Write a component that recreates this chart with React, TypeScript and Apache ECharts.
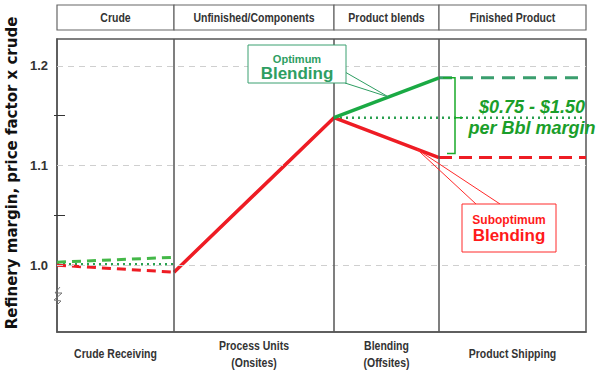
import React, { useEffect, useRef } from "react";
import * as echarts from "echarts";

// ---- data ----
const stageEdges = [0, 1.17, 2.77, 3.82, 5.29];
const headerLabels = ["Crude", "Unfinished/Components", "Product blends", "Finished Product"];
const stageLabels = ["Crude Receiving", "Process Units\n(Onsites)", "Blending\n(Offsites)", "Product Shipping"];
const yLabelValues = [1.0, 1.1, 1.2];
const yMinorTicks = [1.05, 1.15];
const yMin = 0.933;
const yMax = 1.227;
const redValues = [1.0, 0.993, 1.148, 1.108, 1.108];
const greenValues = [1.003, 1.008, 1.148, 1.188, 1.188];
const dottedValues = [1.001, 1.001, 1.148, 1.148, 1.148];
const marginLines = ["$0.75 - $1.50", "per Bbl margin"];
const optimumLines = ["Optimum", "Blending"];
const suboptimumLines = ["Suboptimum", "Blending"];
const yAxisTitle = "Refinery margin, price factor x crude";

const NARROW = "'Liberation Sans Narrow', 'Liberation Sans', Arial, sans-serif";
const SANS = "'Liberation Sans', Arial, sans-serif";

const RED = "#ee1c24";
const GREEN = "#1aaa44";
const GREEN_DASH_L = "#44b848";
const GREEN_DASH_R = "#3a9e6e";
const GREEN_DOT = "#2aa050";
const OPT_GREEN = "#2e9e62";
const TXT_GREEN = "#1a9e2a";
const NARROW_SCALE = 0.84;

const mids = stageEdges.slice(0, -1).map((e, i) => (e + stageEdges[i + 1]) / 2);

function seg(values: number[], from: number, to: number) {
  const out: number[][] = [];
  for (let i = from; i <= to; i++) out.push([stageEdges[i], values[i]]);
  return out;
}

function lineSeries(name: string, data: number[][], color: string, width: number, type: any, z: number) {
  return {
    name,
    type: "line",
    data,
    symbol: "none",
    z,
    silent: true,
    lineStyle: { color, width, type, cap: "butt" },
  };
}

export default function App() {
  const ref = useRef<HTMLDivElement>(null);
  useEffect(() => {
    if (!ref.current) return;
    const chart = echarts.init(ref.current, undefined, { renderer: "svg" });
    const guideLines: any[] = [
      ...yLabelValues.map((v) => ({
        yAxis: v,
        lineStyle: { color: "#cfcfcf", width: 1, type: [6, 5] },
      })),
      ...stageEdges.slice(1, -1).map((e) => ({
        xAxis: e,
        lineStyle: { color: "#555", width: 1.5, type: "solid" },
      })),
    ];
    chart.setOption({
      animation: false,
      backgroundColor: "#fff",
      grid: {
        left: 57,
        right: 14,
        top: 39,
        bottom: 42,
        show: true,
        borderColor: "#555",
        borderWidth: 1.5,
        backgroundColor: "transparent",
      },
      xAxis: {
        type: "value",
        min: 0,
        max: stageEdges[stageEdges.length - 1],
        axisLine: { show: true, lineStyle: { color: "#555", width: 1.5 } },
        axisTick: { show: false },
        splitLine: { show: false },
        axisLabel: { show: false },
      },
      yAxis: [
        {
          type: "value",
          min: yMin,
          max: yMax,
          axisLine: { show: true, lineStyle: { color: "#555", width: 1.5 } },
          axisTick: { show: true, customValues: yMinorTicks, length: 3, lineStyle: { color: "#333", width: 1 } },
          splitLine: { show: false },
          axisLabel: {
            customValues: yLabelValues,
            formatter: (v: number) => v.toFixed(1),
            margin: 9,
            fontFamily: NARROW,
            fontWeight: "bold",
            fontSize: 13,
            color: "#333",
          },
        },
        {
          type: "value",
          min: yMin,
          max: yMax,
          position: "left",
          axisLine: { show: false },
          axisTick: { show: true, inside: true, customValues: yMinorTicks, length: 8, lineStyle: { color: "#333", width: 1 } },
          splitLine: { show: false },
          axisLabel: { show: false },
        },
      ],
      series: [
        {
          name: "guides",
          type: "line",
          data: seg(dottedValues, 0, 0),
          symbol: "none",
          z: 1,
          silent: true,
          lineStyle: { opacity: 0 },
          markLine: {
            silent: true,
            symbol: "none",
            label: { show: false },
            data: guideLines,
          },
        },
        lineSeries("dottedL", seg(dottedValues, 0, 1), GREEN_DOT, 2.5, [2, 4], 2),
        lineSeries("dottedR", seg(dottedValues, 2, 4), GREEN_DOT, 2.5, [2, 4], 2),
        lineSeries("greenDashL", seg(greenValues, 0, 1), GREEN_DASH_L, 3, [9, 6], 3),
        lineSeries("redDashL", seg(redValues, 0, 1), RED, 3, [9, 6], 3),
        lineSeries("greenDashR", seg(greenValues, 3, 4), GREEN_DASH_R, 3, [13, 8], 3),
        lineSeries("redDashR", seg(redValues, 3, 4), RED, 3, [13, 7], 3),
        lineSeries("redSolid", seg(redValues, 1, 3), RED, 3.5, "solid", 4),
        lineSeries("greenSolid", seg(greenValues, 2, 3), GREEN, 3.5, "solid", 5),
      ],
    });

    const P = (x: number, y: number) => chart.convertToPixel({ gridIndex: 0 } as any, [x, y]) as number[];
    const lerp = (a: number[], b: number[], t: number) => [a[0] + (b[0] - a[0]) * t, a[1] + (b[1] - a[1]) * t];
    const g: any[] = [];

    // header boxes
    for (let i = 0; i < headerLabels.length; i++) {
      const x0 = P(stageEdges[i], yMax)[0];
      const x1 = P(stageEdges[i + 1], yMax)[0];
      g.push({
        type: "rect",
        shape: { x: x0, y: 5, width: x1 - x0, height: 25 },
        style: { fill: "#fff", stroke: "#666", lineWidth: 1.2 },
        z: 50,
      });
      g.push({
        type: "text",
        x: (x0 + x1) / 2,
        y: 17.5,
        scaleX: NARROW_SCALE,
        style: {
          text: headerLabels[i],
          fontFamily: NARROW,
          fontWeight: "bold",
          fontSize: 12.5,
          fill: "#333",
          align: "center",
          verticalAlign: "middle",
        },
        z: 51,
      });
    }

    // stage labels below the x axis
    const axisY = P(0, yMin)[1];
    for (let i = 0; i < stageLabels.length; i++) {
      g.push({
        type: "text",
        x: P(mids[i], yMin)[0],
        y: axisY + 22,
        scaleX: NARROW_SCALE,
        style: {
          text: stageLabels[i],
          fontFamily: NARROW,
          fontWeight: "bold",
          fontSize: 12.5,
          lineHeight: 17,
          fill: "#333",
          align: "center",
          verticalAlign: "middle",
        },
        z: 51,
      });
    }

    // y-axis title
    g.push({
      type: "text",
      x: 11.5,
      y: 173,
      rotation: Math.PI / 2,
      style: {
        text: yAxisTitle,
        fontFamily: "'DejaVu Sans', sans-serif",
        fontWeight: "bold",
        fontSize: 15,
        fill: "#111",
        align: "center",
        verticalAlign: "middle",
      },
      z: 50,
    });

    // axis break squiggle
    g.push({
      type: "polyline",
      shape: { points: [[60, 287], [55, 293], [62, 293], [54, 300], [61, 301], [57, 305]] },
      style: { stroke: "#777", lineWidth: 1, fill: "none" },
      z: 50,
    });

    // Optimum callout
    const optTip = lerp(P(stageEdges[2], greenValues[2]), P(stageEdges[3], greenValues[3]), 0.52);
    g.push({
      type: "polyline",
      shape: { points: [[345, 72], optTip, [345, 83]] },
      style: { stroke: OPT_GREEN, lineWidth: 1, fill: "none" },
      z: 60,
    });
    g.push({
      type: "rect",
      shape: { x: 248, y: 45, width: 98, height: 38 },
      style: { fill: "#fff", stroke: "#3aa070", lineWidth: 1 },
      z: 61,
    });
    g.push({
      type: "text",
      x: 297,
      y: 59,
      style: { text: optimumLines[0], fontFamily: SANS, fontWeight: "bold", fontSize: 11, fill: OPT_GREEN, align: "center", verticalAlign: "middle" },
      z: 62,
    });
    g.push({
      type: "text",
      x: 297,
      y: 73,
      style: { text: optimumLines[1], fontFamily: SANS, fontWeight: "bold", fontSize: 17, fill: OPT_GREEN, align: "center", verticalAlign: "middle" },
      z: 62,
    });

    // Suboptimum callout
    const subTip = lerp(P(stageEdges[2], redValues[2]), P(stageEdges[3], redValues[3]), 0.79);
    g.push({
      type: "polyline",
      shape: { points: [[476, 204], subTip, [500, 204]] },
      style: { stroke: "#ff2a2a", lineWidth: 1, fill: "none" },
      z: 60,
    });
    g.push({
      type: "rect",
      shape: { x: 462, y: 204, width: 94, height: 48 },
      style: { fill: "#fff", stroke: "#ff2a2a", lineWidth: 1 },
      z: 61,
    });
    g.push({
      type: "text",
      x: 509,
      y: 220,
      style: { text: suboptimumLines[0], fontFamily: SANS, fontWeight: "bold", fontSize: 12, fill: "#ff1a1a", align: "center", verticalAlign: "middle" },
      z: 62,
    });
    g.push({
      type: "text",
      x: 509,
      y: 235,
      style: { text: suboptimumLines[1], fontFamily: SANS, fontWeight: "bold", fontSize: 17, fill: "#ff1a1a", align: "center", verticalAlign: "middle" },
      z: 62,
    });

    // bracket and margin text
    const bx = P(stageEdges[3], yMax)[0] + 4;
    const yTop = P(0, greenValues[3])[1];
    const yBot = P(0, redValues[3])[1] - 4;
    const yMid = P(0, dottedValues[2])[1];
    g.push({
      type: "polyline",
      shape: { points: [[bx, yTop], [bx + 12, yTop], [bx + 12, yBot], [bx + 4, yBot]] },
      style: { stroke: "#1aaa2a", lineWidth: 1.5, fill: "none" },
      z: 60,
    });
    g.push({
      type: "line",
      shape: { x1: bx + 12, y1: yMid, x2: bx + 20, y2: yMid },
      style: { stroke: "#1aaa2a", lineWidth: 1.5 },
      z: 60,
    });
    g.push({
      type: "text",
      x: 532,
      y: yMid - 11,
      style: { text: marginLines[0], fontFamily: SANS, fontWeight: "bold", fontStyle: "italic", fontSize: 18, fill: TXT_GREEN, align: "center", verticalAlign: "middle" },
      z: 62,
    });
    g.push({
      type: "text",
      x: 532,
      y: yMid + 10,
      style: { text: marginLines[1], fontFamily: SANS, fontWeight: "bold", fontStyle: "italic", fontSize: 18, fill: TXT_GREEN, align: "center", verticalAlign: "middle" },
      z: 62,
    });

    chart.setOption({ graphic: g });
    return () => chart.dispose();
  }, []);
  return (
    <div
      ref={ref}
      style={{ position: "absolute", left: 0, top: 0, width: 600, height: 374, background: "#fff" }}
    />
  );
}
